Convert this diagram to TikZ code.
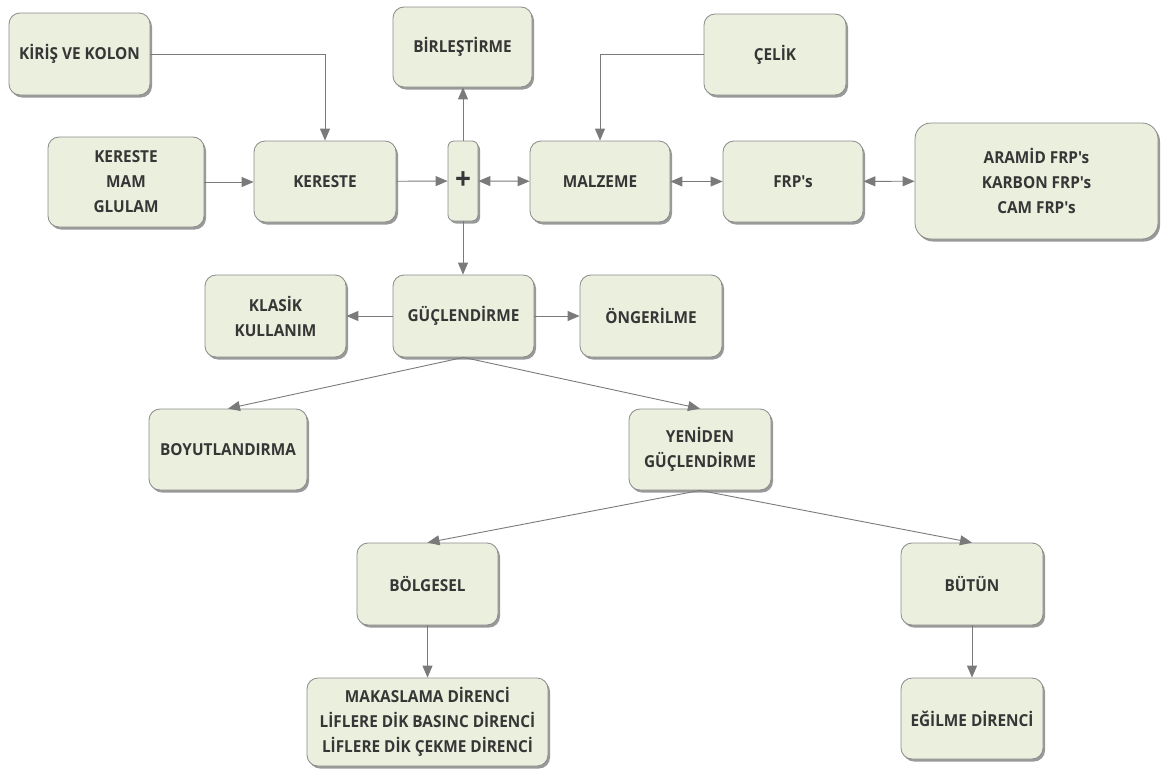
\documentclass[tikz,border=0pt]{standalone}
\usepackage{fontspec}
\newfontfamily\boxfont{Open Sans}[FakeStretch=0.93]
\usetikzlibrary{arrows.meta,shadows}
\definecolor{boxfill}{HTML}{EBEFDD}
\definecolor{boxline}{HTML}{8A8A8A}
\definecolor{arr}{HTML}{7A7A7A}
\definecolor{txt}{HTML}{363636}
\begin{document}
\begin{tikzpicture}[x=1pt,y=-1pt,
 box/.style={draw=boxline, line width=0.8pt, fill=boxfill, rounded corners=11pt, align=center,
   font=\boxfont\bfseries\fontsize{16.5}{25}\selectfont, text=txt, inner sep=0pt,
   drop shadow={shadow xshift=2pt,shadow yshift=-2.5pt,fill=black,opacity=0.4}},
 con/.style={draw=arr, line width=0.9pt, -{Triangle[length=12pt,width=10pt]}},
 bicon/.style={draw=arr, line width=0.9pt, {Triangle[length=12pt,width=10pt]}-{Triangle[length=12pt,width=10pt]}}
]
\useasboundingbox (0,0) rectangle (1162,771);
\node[box, minimum width=141pt, minimum height=82pt] (kiris) at (79.5,54) {KİRİŞ VE KOLON};
\node[box, minimum width=139pt, minimum height=80pt] (birles) at (462.5,47) {BİRLEŞTİRME};
\node[box, minimum width=142pt, minimum height=81pt] (celik) at (775,54.5) {ÇELİK};
\node[box, minimum width=156pt, minimum height=90pt] (kmg) at (126,182) {KERESTE\\MAM\\GLULAM};
\node[box, minimum width=142pt, minimum height=81pt] (kereste) at (325,181.5) {KERESTE};
\node[box, minimum width=30pt, minimum height=80pt, rounded corners=6pt, font=\boxfont\bfseries\fontsize{30}{30}\selectfont] (plus) at (463,181) {+};
\node[box, minimum width=140pt, minimum height=81pt] (malzeme) at (600,181.5) {MALZEME};
\node[box, minimum width=140pt, minimum height=81pt] (frp) at (793,181.5) {FRP's};
\node[box, minimum width=243pt, minimum height=116pt, rounded corners=16pt] (aramid) at (1036.5,181) {ARAMİD FRP's\\KARBON FRP's\\CAM FRP's};
\node[box, minimum width=141pt, minimum height=82pt] (klasik) at (275.5,316) {KLASİK\\KULLANIM};
\node[box, minimum width=141pt, minimum height=82pt] (guc) at (463.5,316) {GÜÇLENDİRME};
\node[box, minimum width=142pt, minimum height=82pt] (onger) at (651,316) {ÖNGERİLME};
\node[box, minimum width=158pt, minimum height=81pt] (boyut) at (228,449.5) {BOYUTLANDIRMA};
\node[box, minimum width=142pt, minimum height=81pt] (yeniden) at (700,449.5) {YENİDEN\\GÜÇLENDİRME};
\node[box, minimum width=141pt, minimum height=82pt] (bolgesel) at (427.5,584) {BÖLGESEL};
\node[box, minimum width=142pt, minimum height=82pt] (butun) at (972,584) {BÜTÜN};
\node[box, minimum width=241pt, minimum height=88pt] (makas) at (427.5,722) {MAKASLAMA DİRENCİ\\LİFLERE DİK BASINC DİRENCİ\\LİFLERE DİK ÇEKME DİRENCİ};
\node[box, minimum width=142pt, minimum height=81pt] (egilme) at (972,718.5) {EĞİLME DİRENCİ};

\draw[con] (kiris.east) -| (kereste.north);
\draw[con] (kmg.east) -- (kmg.east -| kereste.west);
\draw[con] (kereste) -- (plus);
\draw[bicon] (plus) -- (malzeme);
\draw[con] (plus.north) -- (plus.north |- birles.south);
\draw[con] (plus.south) -- (plus.south |- guc.north);
\draw[con] (celik.west) -| (malzeme.north);
\draw[bicon] (malzeme) -- (frp);
\draw[bicon] (frp) -- (aramid);
\draw[con] (guc) -- (klasik);
\draw[con] (guc) -- (onger);
\draw[con] (guc.south) -- (boyut.north);
\draw[con] (guc.south) -- (yeniden.north);
\draw[con] (yeniden.south) -- (bolgesel.north);
\draw[con] (yeniden.south) -- (butun.north);
\draw[con] (bolgesel) -- (makas);
\draw[con] (butun) -- (egilme);
\end{tikzpicture}
\end{document}
